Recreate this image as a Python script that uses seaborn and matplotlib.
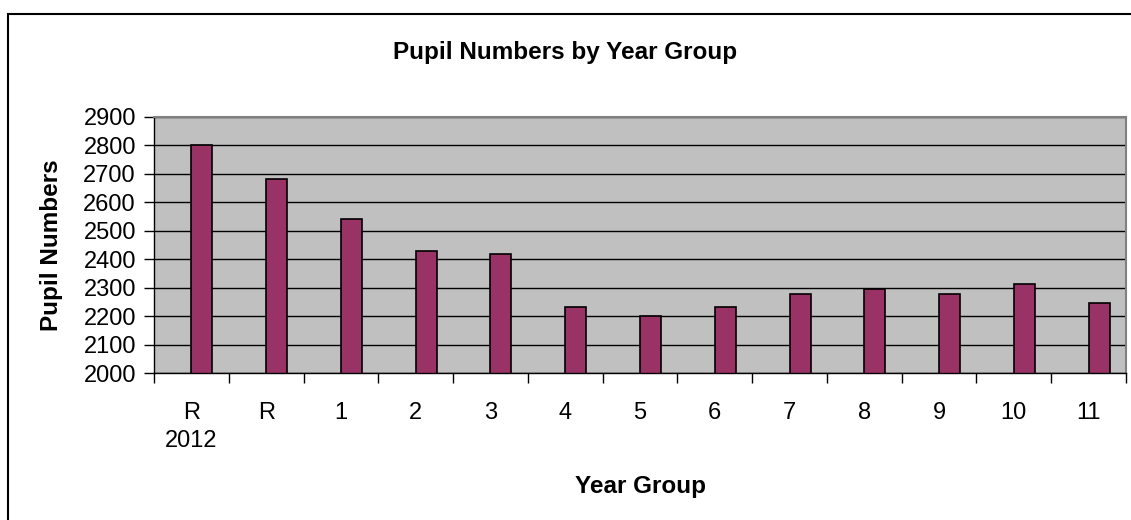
import matplotlib
matplotlib.use("Agg")
import matplotlib.pyplot as plt
from matplotlib.patches import Rectangle
from matplotlib.ticker import FixedLocator
import numpy as np
import pandas as pd
import seaborn as sns

# Year groups and pupil counts
year_groups = ["R\n2012", "R", "1", "2", "3", "4", "5", "6", "7", "8", "9", "10", "11"]
pupils = [2800, 2681, 2542, 2430, 2419, 2234, 2201, 2234, 2278, 2295, 2278, 2312, 2247]
y_ticks = list(range(2000, 2901, 100))

sns.set_theme(style="white")
plt.rcParams["font.family"] = ["Liberation Sans", "DejaVu Sans"]
plt.rcParams.update({"text.color": "black", "axes.labelcolor": "black",
                     "xtick.color": "black", "ytick.color": "black"})

# Two series slots per category; the first is empty so bars sit right of centre
df = pd.DataFrame({
    "year": year_groups * 2,
    "series": ["blank"] * len(year_groups) + ["pupils"] * len(year_groups),
    "value": [np.nan] * len(year_groups) + pupils,
})

fig = plt.figure(figsize=(11.31, 5.2), dpi=100)
ax = fig.add_axes([0.1362, 0.2821, 0.8594, 0.4935])
ax.set_facecolor("#C0C0C0")

sns.barplot(data=df, x="year", y="value", hue="series", hue_order=["blank", "pupils"],
            order=year_groups, palette={"blank": "#993366", "pupils": "#993366"},
            width=0.56, dodge=True, edgecolor="black", linewidth=1.2,
            saturation=1, legend=False, errorbar=None, ax=ax)

ax.set_ylim(2000, 2900)
ax.set_xlim(-0.5, len(year_groups) - 0.5)
ax.set_yticks(y_ticks)
ax.set_yticklabels([str(t) for t in y_ticks], fontsize=17)
ax.yaxis.grid(True, color="black", linewidth=1.0)
ax.set_axisbelow(True)

ax.set_xticks(range(len(year_groups)))
ax.set_xticklabels(year_groups, fontsize=17, linespacing=1.35)
ax.xaxis.set_minor_locator(FixedLocator(np.arange(-0.5, len(year_groups), 1.0)))
ax.tick_params(axis="x", which="major", length=0, pad=21)
ax.tick_params(axis="x", which="minor", length=7, width=1, color="black", direction="out", bottom=True)
ax.tick_params(axis="y", which="major", length=7, width=1, color="black", direction="out", left=True, pad=6)

for side in ["left", "bottom"]:
    ax.spines[side].set_color("black")
    ax.spines[side].set_linewidth(1.0)
for side in ["top", "right"]:
    ax.spines[side].set_color("#808080")
    ax.spines[side].set_linewidth(1.5)

ax.set_xlabel("Year Group", fontsize=17.5, fontweight="bold", labelpad=16)
ax.set_ylabel("Pupil Numbers", fontsize=17.5, fontweight="bold", labelpad=15)

fig.text(0.5, 0.9, "Pupil Numbers by Year Group", ha="center", va="center",
         fontsize=17.5, fontweight="bold")

# Chart-area border
fig.patches.append(Rectangle((8 / 1131, -0.05), 1.2, 1.05 - 14 / 520, transform=fig.transFigure,
                             fill=False, edgecolor="black", linewidth=1.5))

fig.savefig("out.png", dpi=100)
